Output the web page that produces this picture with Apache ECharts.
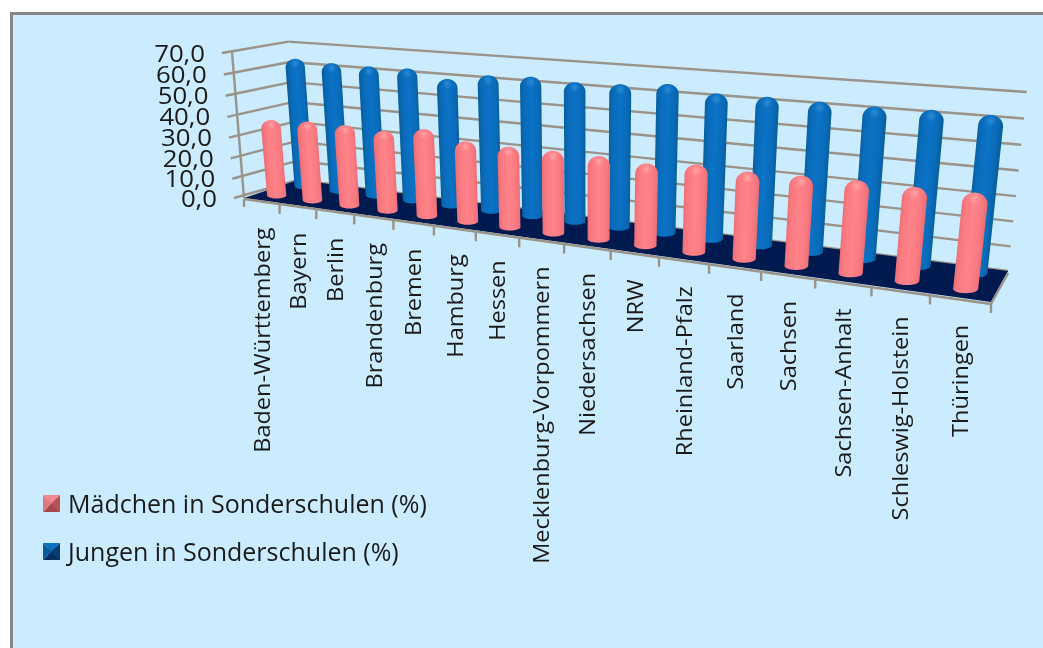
<!DOCTYPE html>
<html><head><meta charset="utf-8">
<style>html,body{margin:0;padding:0;background:#fff}#c{width:1043px;height:648px}#c canvas{filter:blur(0.5px)}</style>
<script src="https://cdn.jsdelivr.net/npm/echarts@6/dist/echarts.min.js"></script>
</head><body><div id="c"></div>
<script>
var categories = ['Baden-Württemberg','Bayern','Berlin','Brandenburg','Bremen','Hamburg','Hessen','Mecklenburg-Vorpommern','Niedersachsen','NRW','Rheinland-Pfalz','Saarland','Sachsen','Sachsen-Anhalt','Schleswig-Holstein','Thüringen'];
var maedchen = [37.0,38.0,38.2,37.4,40.0,36.4,36.0,36.2,36.0,35.0,36.7,36.0,36.6,37.1,36.8,37.0];
var jungen = [63.4,62.6,62.4,62.8,59.4,62.5,63.3,62.4,63.0,64.6,62.2,62.4,62.0,61.8,62.2,62.0];
var yTicks = [0,10,20,30,40,50,60,70];
var yTickLabels = ['0,0','10,0','20,0','30,0','40,0','50,0','60,0','70,0'];

var FONT = '"Open Sans"';
var INK = '#1a1a1a', GRID = '#9a9388', BG = '#cbebff', FLOOR = '#001a50';

// Camera of the pseudo-3D chart box: corners of the box and its perspective terms
var O=[244,198],U=[991,302],D=[298,180],H=[232,52],c1=-0.25,c2=0.058,c3=-0.034;
function P(u,d,h){
  var w=1+c1*u+c2*d+c3*h, r=[0,0];
  for(var i=0;i<2;i++){
    r[i]=(O[i]+(U[i]*(1+c1)-O[i])*u+(D[i]*(1+c2)-O[i])*d+(H[i]*(1+c3)-O[i])*h)/w;
  }
  r[2]=w; return r;
}
function norm(params,pt){var s=params.coordSys;return [(pt[0]-s.x)/s.width,(s.y+s.height-pt[1])/s.height];}
function ln(a,b,w,color){return {type:'line',shape:{x1:a[0],y1:a[1],x2:b[0],y2:b[1]},style:{stroke:color||GRID,lineWidth:w||2.4}};}

function renderGrid(params,api){
  var n=norm(params,api.coord([0,api.value(1)])), h=n[1], i=params.dataIndex;
  var a=P(0,0,h),b=P(0,1,h),c=P(1,1,h),ch=[];
  var tick=[a[0]-10,a[1]+(i==0?0:1)];
  ch.push(ln(tick,b),ln(b,c));
  ch.push({type:'text',x:tick[0]-17,y:tick[1]+2,scaleX:1.12,style:{text:yTickLabels[i],x:0,y:0,align:'right',verticalAlign:'middle',font:'23px '+FONT,fill:INK}});
  return {type:'group',children:ch};
}
function renderFloor(params,api){
  var k=api.value(0),c=api.coord([k,0]),bw=api.size([1,0])[0],n1=norm(params,[c[0]+bw/2,c[1]]),ch=[];
  var nc=norm(params,c);
  if(k==0){
    var a=P(0,0,0),b=P(1,0,0),cc=P(1,1,0),d=P(0,1,0),top=P(0,0,1);
    ch.push({type:'polygon',shape:{points:[a.slice(0,2),b.slice(0,2),cc.slice(0,2),d.slice(0,2)]},style:{fill:FLOOR}});
    ch.push(ln([a[0],a[1]+1],[b[0],b[1]+2]),ln([b[0],b[1]+2],[cc[0],cc[1]+2]),ln(a,top));
    ch.push(ln([a[0],a[1]+1],[a[0],a[1]+9]));
  }
  var t=P(n1[0],0,0);
  ch.push(ln([t[0],t[1]+2],[t[0],t[1]+11]));
  var l=P(nc[0],0,0);
  ch.push({type:'text',x:l[0]+2,y:l[1]+27,rotation:Math.PI/2,scaleX:1.12,style:{text:categories[k],x:0,y:0,align:'right',verticalAlign:'middle',font:'21px '+FONT,fill:INK}});
  return {type:'group',children:ch};
}
function cylinder(row,stops,spot){
  return function(params,api){
    var c=api.coord([api.value(0),api.value(1)]),n=norm(params,c);
    var B=P(n[0],row,0),T=P(n[0],row,n[1]),K=9.7,hb=K/B[2],ht=K/T[2];
    var ry=ht*0.9,rb=hb*0.33,pts=[],i,a;
    for(i=0;i<=20;i++){a=Math.PI*(1-i/20);pts.push([T[0]+ht*Math.cos(a),T[1]+ry-ry*Math.sin(a)]);}
    for(i=0;i<=12;i++){a=Math.PI*i/12;pts.push([B[0]+hb*Math.cos(a),B[1]+rb*Math.sin(a)]);}
    // gradient runs across the leaning cylinder, in page pixels
    var m=[(T[0]+B[0])/2,(T[1]+B[1])/2],ax=T[0]-B[0],ay=T[1]-B[1],len=Math.sqrt(ax*ax+ay*ay),hm=(ht+hb)/2;
    var px=-ay/len*hm,py=ax/len*hm;
    var fill=new echarts.graphic.LinearGradient(m[0]-px,m[1]-py,m[0]+px,m[1]+py,stops,true);
    return {type:'group',children:[
      {type:'polygon',shape:{points:pts},style:{fill:fill}},
      {type:'ellipse',shape:{cx:T[0],cy:T[1]+ry*0.55,rx:ht*0.7,ry:ry*0.55},style:{fill:new echarts.graphic.RadialGradient(0.5,0.5,0.5,[{offset:0,color:spot},{offset:1,color:spot.replace(/[\d.]+\)$/,'0)')}])}}
    ]};
  };
}
var pinkStops=[{offset:0,color:'#ec6e75'},{offset:0.18,color:'#fa7a81'},{offset:0.5,color:'#ff838a'},{offset:0.82,color:'#fa7a81'},{offset:1,color:'#ec6e75'}];
var blueStops=[{offset:0,color:'#07609f'},{offset:0.18,color:'#0a6bb9'},{offset:0.5,color:'#0b72c6'},{offset:0.82,color:'#0a6bb9'},{offset:1,color:'#07609f'}];
function pairs(v){return v.map(function(x,i){return [i,x];});}

var chart=echarts.init(document.getElementById('c'),null,{renderer:'canvas'});
function bevel(x,y,s,l,t,r,b){
  var m=[x+s/2,y+s/2];
  function tri(p,q,f){return {type:'polygon',silent:true,z:20,shape:{points:[p,q,m]},style:{fill:f}};}
  return [tri([x,y],[x+s,y],t),tri([x+s,y],[x+s,y+s],r),tri([x+s,y+s],[x,y+s],b),tri([x,y+s],[x,y],l)];
}
chart.setOption({
  animation:false,
  backgroundColor:'#ffffff',
  grid:{left:244,top:52,width:747,height:146},
  xAxis:{type:'category',data:categories,show:false},
  yAxis:{type:'value',min:0,max:70,interval:10,show:false},
  legend:{left:43,top:488,z:1,orient:'vertical',itemWidth:12,itemHeight:13,itemGap:23,selectedMode:false,icon:'rect',
    data:['Mädchen in Sonderschulen (%)','Jungen in Sonderschulen (%)'],
    textStyle:{fontFamily:'Open Sans',fontSize:25,color:INK,padding:[0,0,0,3]}},
  graphic:[{type:'rect',silent:true,z:-5,shape:{x:11.5,y:13.5,width:1200,height:800},style:{fill:BG,stroke:'#868686',lineWidth:3}}]
    .concat(bevel(43,495,17,'#e0787e','#f08a90','#b85058','#a84650'))
    .concat(bevel(43,543,17,'#0a5a9a','#1070c0','#063c70','#053060')),
  series:[
    {type:'custom',name:'grid',z:1,silent:true,renderItem:renderGrid,data:yTicks.map(function(v,i){return [i,v];}),encode:{x:0,y:1}},
    {type:'custom',name:'floor',z:2,silent:true,renderItem:renderFloor,data:categories.map(function(c,i){return [i,0];}),encode:{x:0,y:1}},
    {type:'custom',name:'Jungen in Sonderschulen (%)',z:3,itemStyle:{color:'#0b6cbe'},renderItem:cylinder(0.78,blueStops,'rgba(60,160,225,0.6)'),data:pairs(jungen),encode:{x:0,y:1}},
    {type:'custom',name:'Mädchen in Sonderschulen (%)',z:4,itemStyle:{color:'#f9777f'},renderItem:cylinder(0.27,pinkStops,'rgba(255,175,175,0.7)'),data:pairs(maedchen),encode:{x:0,y:1}}
  ]
});
</script></body></html>
